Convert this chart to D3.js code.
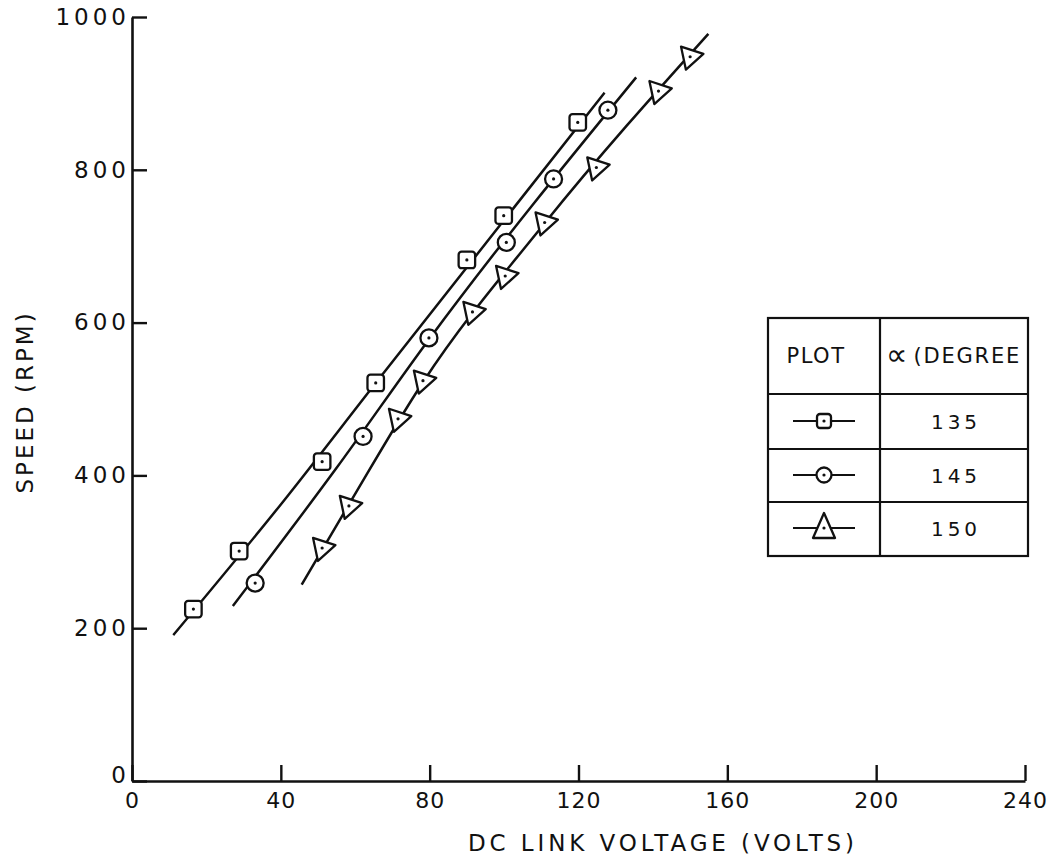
<!DOCTYPE html>
<html>
<head>
<meta charset="utf-8">
<script src="https://cdn.jsdelivr.net/npm/d3@7"></script>
<style>
  body { margin: 0; background: #fff; }
  svg text { font-family: "DejaVu Sans", sans-serif; fill: #111; }
</style>
</head>
<body>
<div id="chart"></div>
<script>
// values
var voltage135 = [16.5, 28.8, 51.1, 65.5, 90.0, 99.9, 119.8];
var speed135   = [225, 301, 418, 521, 682, 740, 862];
var voltage145 = [33.1, 62.1, 79.8, 100.6, 113.3, 127.9];
var speed145   = [259, 451, 580, 705, 788, 878];
var voltage150 = [51.1, 58.3, 71.5, 78.2, 91.5, 100.3, 110.9, 124.8, 141.5, 150.0];
var speed150   = [305, 360, 474, 524, 614, 661, 731, 803, 903, 948];

// the hand drawn trend lines [volts, rpm]
var trace135 = [[11.1, 191], [40, 362], [65.5, 521], [127.0, 901]];
var trace145 = [[27.1, 229], [55, 410], [79.8, 578], [135.5, 921]];
var trace150 = [[45.6, 257], [58.3, 362], [78.2, 522], [110.9, 730], [154.9, 978]];

var xTicks = [0, 40, 80, 120, 160, 200, 240];
var yTicks = [0, 200, 400, 600, 800, 1000];
var legendAngles = ["135", "145", "150"];
var legendKinds = ["square", "circle", "triangle"];

function main() {
    var width = 1053, height = 858;

    var x = d3.scaleLinear().domain([0, 240]).range([132, 1025]);
    var y = d3.scaleLinear().domain([0, 1000]).range([781, 17]);

    var svg = d3.select("#chart").append("svg").attr("width", width).attr("height", height);

    // axes, ticks pointing inward like the original
    var gx = svg.append("g").attr("transform", "translate(0,781)")
        .call(d3.axisBottom(x).tickValues(xTicks).tickFormat(d3.format("d"))
            .tickSize(-16).tickSizeOuter(0).tickPadding(11));
    var gy = svg.append("g").attr("transform", "translate(132,0)")
        .call(d3.axisLeft(y).tickValues(yTicks).tickFormat(d3.format("d"))
            .tickSize(-15).tickSizeOuter(0).tickPadding(6));

    svg.selectAll(".domain").attr("stroke", "#111").attr("stroke-width", 2.6);
    svg.selectAll(".tick line").attr("stroke", "#111").attr("stroke-width", 2.4);
    gx.selectAll(".tick text").attr("font-size", 22).attr("letter-spacing", 1).attr("fill", "#111");
    gy.selectAll(".tick text").attr("font-size", 23).attr("letter-spacing", 4).attr("fill", "#111")
      .attr("dx", 4);
    gy.selectAll(".tick").filter(function(d) { return d === 0; }).select("text").attr("dy", "0.05em");

    // axis titles
    svg.append("text").attr("x", 663).attr("y", 851).attr("text-anchor", "middle")
        .attr("font-size", 23).attr("letter-spacing", 3.9).text("DC LINK VOLTAGE (VOLTS)");
    svg.append("text").attr("transform", "translate(33,402) rotate(-90)").attr("text-anchor", "middle")
        .attr("font-size", 23).attr("letter-spacing", 3).text("SPEED (RPM)");

    var series = [
        { kind: "square",   vx: voltage135, vy: speed135, trace: trace135 },
        { kind: "circle",   vx: voltage145, vy: speed145, trace: trace145 },
        { kind: "triangle", vx: voltage150, vy: speed150, trace: trace150 }
    ];

    var line = d3.line().x(function(d) { return x(d[0]); }).y(function(d) { return y(d[1]); })
        .curve(d3.curveMonotoneX);

    series.forEach(function(s) {
        svg.append("path").datum(s.trace).attr("d", line)
            .attr("fill", "none").attr("stroke", "#111").attr("stroke-width", 2.5);

        var pts = s.vx.map(function(v, i) { return [v, s.vy[i]]; });
        var g = svg.append("g").selectAll("g").data(pts).enter().append("g")
            .attr("transform", function(d) { return "translate(" + x(d[0]) + "," + y(d[1]) + ")"; });
        drawMarker(g, s.kind, false);
    });

    // legend table
    var lg = svg.append("g");
    var tl = 768, tr = 1028, tt = 318, tb = 556, tc = 880;
    var rows = [394, 449, 502];
    lg.append("rect").attr("x", tl).attr("y", tt).attr("width", tr - tl).attr("height", tb - tt)
        .attr("fill", "none").attr("stroke", "#111").attr("stroke-width", 2.2);
    lg.append("line").attr("x1", tc).attr("x2", tc).attr("y1", tt).attr("y2", tb)
        .attr("stroke", "#111").attr("stroke-width", 2.2);
    lg.selectAll(".row").data(rows).enter().append("line")
        .attr("x1", tl).attr("x2", tr).attr("y1", function(d) { return d; }).attr("y2", function(d) { return d; })
        .attr("stroke", "#111").attr("stroke-width", 2.2);

    lg.append("text").attr("x", 816).attr("y", 363).attr("text-anchor", "middle")
        .attr("font-size", 21).attr("letter-spacing", 1.5).text("PLOT");
    var hd = lg.append("text").attr("x", 886).attr("y", 363).attr("font-size", 21);
    hd.append("tspan").attr("font-size", 30).attr("dy", 2).text("\u221D");
    hd.append("tspan").attr("dx", 6).attr("dy", -2).attr("letter-spacing", 1.8).text("(DEGREE");

    var rowMid = [421, 475, 528];
    legendAngles.forEach(function(a, i) {
        lg.append("text").attr("x", 956).attr("y", rowMid[i] + 8).attr("text-anchor", "middle")
            .attr("font-size", 20).attr("letter-spacing", 4).text(a);
        lg.append("line").attr("x1", 793).attr("x2", 855).attr("y1", rowMid[i]).attr("y2", rowMid[i])
            .attr("stroke", "#111").attr("stroke-width", 2);
        var m = lg.append("g").datum(0).attr("transform", "translate(824," + rowMid[i] + ")");
        drawMarker(m, legendKinds[i], true);
    });
}

function drawMarker(sel, kind, small) {
    if (kind === "square") {
        var s = small ? 14 : 16.5;
        sel.append("rect").attr("x", -s / 2).attr("y", -s / 2).attr("width", s).attr("height", s)
            .attr("rx", 3).attr("fill", "#fff").attr("stroke", "#111").attr("stroke-width", 2.3);
    } else if (kind === "circle") {
        sel.append("circle").attr("r", small ? 7.5 : 8.5)
            .attr("fill", "#fff").attr("stroke", "#111").attr("stroke-width", 2.3);
    } else if (small) {
        sel.append("path").attr("d", "M0,-15L11,10L-11,10Z")
            .attr("fill", "#fff").attr("stroke", "#111").attr("stroke-width", 2.3).attr("stroke-linejoin", "round");
    } else {
        sel.append("path").attr("d", d3.symbol().type(d3.symbolTriangle).size(240)())
            .attr("transform", "rotate(198)")
            .attr("fill", "#fff").attr("stroke", "#111").attr("stroke-width", 2.3).attr("stroke-linejoin", "round");
    }
    sel.append("circle").attr("r", 1.6).attr("fill", "#111");
}

main();
</script>
</body>
</html>
